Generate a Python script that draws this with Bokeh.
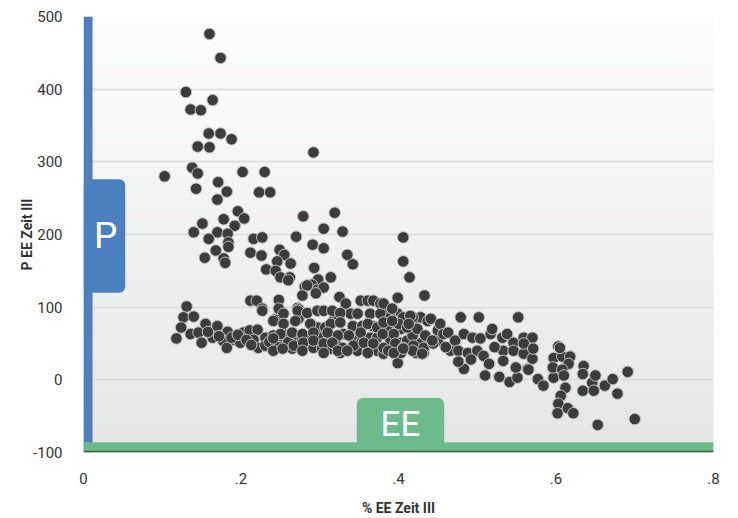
from bokeh.plotting import figure
from bokeh.models import FixedTicker, Range1d
from bokeh.core.properties import value
from bokeh.embed import file_html
from bokeh.resources import INLINE
import numpy as np

# ---------------- data (x = % EE Zeit III, y = P EE Zeit III) ----------------
upper_cluster = [
    (0.160, 476), (0.174, 443), (0.130, 396), (0.164, 385), (0.136, 372), (0.149, 371),
    (0.159, 339), (0.174, 339), (0.188, 331), (0.145, 321), (0.160, 320), (0.292, 313),
    (0.103, 280), (0.138, 292), (0.145, 284), (0.202, 286), (0.230, 286), (0.143, 263),
    (0.171, 272), (0.182, 259), (0.223, 258), (0.237, 258), (0.170, 248), (0.196, 232),
    (0.204, 222), (0.192, 212), (0.178, 221), (0.151, 215), (0.140, 203), (0.170, 203),
    (0.183, 201), (0.159, 194), (0.184, 189), (0.184, 183), (0.168, 178), (0.154, 168),
    (0.178, 167), (0.180, 161), (0.216, 194), (0.227, 196), (0.212, 175), (0.226, 171),
    (0.270, 197), (0.279, 225), (0.319, 230), (0.305, 208), (0.329, 204), (0.291, 186),
    (0.305, 181), (0.249, 179), (0.255, 172), (0.263, 160), (0.246, 163), (0.232, 152),
    (0.244, 150), (0.250, 141), (0.262, 141), (0.293, 154), (0.314, 141), (0.335, 172),
    (0.342, 159), (0.406, 196), (0.406, 163), (0.414, 141), (0.433, 116), (0.298, 138),
    (0.281, 128), (0.290, 131), (0.297, 124), (0.305, 127), (0.278, 116), (0.325, 114),
    (0.212, 109), (0.220, 109), (0.248, 110), (0.131, 101), (0.227, 98), (0.272, 99),
    (0.260, 137), (0.295, 119),
]
low_band_left = [
    (0.127, 86), (0.140, 87), (0.124, 72), (0.118, 57), (0.136, 63), (0.146, 65),
    (0.155, 77), (0.150, 51), (0.164, 58), (0.170, 74), (0.183, 66), (0.177, 54),
    (0.182, 44), (0.192, 55), (0.203, 65), (0.227, 95), (0.243, 83), (0.211, 68),
    (0.221, 69), (0.199, 51), (0.216, 55), (0.222, 44), (0.231, 58), (0.241, 61),
    (0.231, 47), (0.241, 50), (0.248, 98), (0.253, 50), (0.254, 63), (0.265, 43),
    (0.267, 58), (0.241, 81), (0.254, 91), (0.273, 97), (0.273, 84), (0.284, 130),
    (0.158, 66), (0.172, 60), (0.188, 58), (0.196, 62), (0.207, 55), (0.213, 48),
    (0.236, 52), (0.260, 52), (0.248, 45),
]
middle_band = [
    (0.278, 57), (0.288, 57), (0.297, 72), (0.307, 72), (0.292, 44), (0.303, 43),
    (0.314, 43), (0.301, 58), (0.314, 58), (0.317, 81), (0.324, 86), (0.333, 105),
    (0.320, 51), (0.330, 63), (0.326, 37), (0.339, 91), (0.348, 91), (0.352, 109),
    (0.361, 109), (0.368, 109), (0.377, 105), (0.342, 74), (0.354, 74), (0.367, 74),
    (0.343, 57), (0.354, 54), (0.364, 58), (0.373, 58), (0.348, 40), (0.361, 40),
    (0.373, 40), (0.381, 36), (0.386, 95), (0.399, 91), (0.406, 86), (0.381, 72),
    (0.394, 70), (0.403, 70), (0.390, 54), (0.403, 51), (0.411, 54), (0.399, 113),
    (0.399, 23), (0.419, 81), (0.428, 86), (0.437, 81), (0.418, 61), (0.428, 50),
    (0.441, 51), (0.450, 54), (0.422, 37), (0.432, 37),
    (0.272, 95), (0.284, 92), (0.297, 95), (0.305, 95), (0.316, 95), (0.326, 92),
    (0.364, 91), (0.377, 91), (0.390, 86), (0.418, 86), (0.441, 84), (0.254, 77),
    (0.269, 81), (0.288, 77), (0.314, 77), (0.326, 79), (0.361, 77), (0.373, 72),
    (0.386, 74), (0.400, 77), (0.411, 72), (0.424, 70), (0.450, 68), (0.250, 63),
    (0.265, 65), (0.278, 63), (0.292, 65), (0.310, 65), (0.323, 61), (0.337, 61),
    (0.352, 65), (0.380, 63), (0.394, 63), (0.434, 61), (0.267, 47), (0.279, 51),
    (0.292, 54), (0.305, 50), (0.316, 51), (0.329, 44), (0.343, 47), (0.356, 51),
    (0.368, 50), (0.381, 44), (0.396, 50), (0.406, 44), (0.419, 47), (0.432, 44),
    (0.444, 50), (0.278, 40), (0.305, 37), (0.323, 40), (0.335, 40), (0.361, 37),
    (0.387, 40), (0.403, 37), (0.418, 40), (0.430, 36), (0.241, 40), (0.253, 43),
    (0.241, 57),
]
right_tail = [
    (0.381, 105), (0.392, 98), (0.415, 88), (0.381, 79), (0.392, 81), (0.413, 77),
    (0.394, 37), (0.406, 43), (0.443, 54), (0.453, 77), (0.457, 63), (0.479, 86),
    (0.502, 86), (0.552, 86), (0.463, 65), (0.472, 54), (0.483, 63), (0.494, 58),
    (0.504, 57), (0.517, 63), (0.519, 70), (0.466, 40), (0.476, 40), (0.488, 37),
    (0.500, 40), (0.508, 33), (0.483, 15), (0.510, 6), (0.528, 4), (0.541, -3),
    (0.551, 3), (0.532, 58), (0.538, 63), (0.546, 51), (0.559, 58), (0.570, 58),
    (0.533, 40), (0.546, 40), (0.559, 36), (0.570, 29), (0.533, 26), (0.549, 17),
    (0.564, 15), (0.577, 1), (0.584, -8), (0.597, 3), (0.603, 46), (0.597, 30),
    (0.608, 32), (0.618, 32), (0.616, 22), (0.596, 17), (0.608, 14), (0.612, -11),
    (0.606, -22), (0.603, -33), (0.615, -39), (0.622, -46), (0.602, -46), (0.635, 19),
    (0.634, 8), (0.634, -15), (0.646, -4), (0.650, 6), (0.648, -15), (0.662, -8),
    (0.672, 1), (0.678, -19), (0.691, 11), (0.653, -62), (0.700, -54), (0.565, 14),
    (0.559, 50), (0.571, 43), (0.610, 6), (0.605, 44), (0.476, 25), (0.492, 28),
    (0.515, 22), (0.522, 45), (0.460, 45),
]

x_ticks = [0, 0.2, 0.4, 0.6, 0.8]
x_tick_labels = ["0", ".2", ".4", ".6", ".8"]
y_ticks = [-100, 0, 100, 200, 300, 400, 500]
y_tick_labels = ["-100", "0", "100", "200", "300", "400", "500"]
x_title = "% EE Zeit III"
y_title = "P EE Zeit III"
p_tag = "P"
ee_tag = "EE"

# ---------------- styling ----------------
FONT = "Roboto"
BLUE = "#4a80c0"
GREEN = "#6dba8b"
DOT = "#3c3c3c"

points = upper_cluster + low_band_left + middle_band + right_tail
xs = [pt[0] for pt in points]
ys = [pt[1] for pt in points]

p = figure(width=738, height=518, output_backend="svg", toolbar_location=None,
           x_range=Range1d(0, 0.8), y_range=Range1d(-100, 500),
           min_border_left=83, min_border_right=25, min_border_top=16, min_border_bottom=66)
p.outline_line_color = None
p.background_fill_color = "#f2f3f3"
p.border_fill_color = "white"

# background vertical gradient (decoration)
n = 60
edges = np.linspace(-100, 500, n + 1)
c_bot = np.array([228, 230, 230])
c_top = np.array([253, 253, 253])
cols = []
for i in range(n):
    t = (i + 0.5) / n
    c = c_bot + (c_top - c_bot) * t
    cols.append("#%02x%02x%02x" % tuple(int(round(v)) for v in c))
p.quad(left=0, right=0.8, bottom=edges[:-1], top=edges[1:], fill_color=cols,
       line_color=cols, line_width=1, level="image")

p.xgrid.grid_line_color = None
p.ygrid.grid_line_color = "#dcdcdc"
p.ygrid.grid_line_width = 1.5

# scatter
p.scatter(xs, ys, size=11.5, fill_color=DOT, line_color="#c4c4c4", line_width=1)

# P tag + blue bar
p.quad(left=0, right=0.053, bottom=120, top=276, fill_color=BLUE, line_color=None, border_radius=6)
p.quad(left=0, right=0.0115, bottom=-100, top=500, fill_color=BLUE, line_color=None)
p.text(x=[0.028], y=[199], text=[p_tag], text_align="center", text_baseline="middle",
       text_color="white", text_font_size="37px", text_font=value(FONT))

# EE tag + green bar
p.quad(left=0.347, right=0.458, bottom=-95, top=-25, fill_color=GREEN, line_color=None, border_radius=6)
p.quad(left=0, right=0.8, bottom=-98, top=-86, fill_color=GREEN, line_color=None)
p.quad(left=0, right=0.8, bottom=-100, top=-97.5, fill_color="#4d5c54", line_color=None)
p.text(x=[0.4025], y=[-62], text=[ee_tag], text_align="center", text_baseline="middle",
       text_color="white", text_font_size="35px", text_font=value(FONT))

# axes
p.xaxis.ticker = FixedTicker(ticks=x_ticks)
p.xaxis.major_label_overrides = {t: l for t, l in zip(x_ticks, x_tick_labels)}
p.yaxis.ticker = FixedTicker(ticks=y_ticks)
p.yaxis.major_label_overrides = {t: l for t, l in zip(y_ticks, y_tick_labels)}
for ax in (p.xaxis, p.yaxis):
    ax.axis_line_color = None
    ax.major_tick_line_color = None
    ax.minor_tick_line_color = None
    ax.major_label_text_font = FONT
    ax.major_label_text_font_size = "15px"
    ax.major_label_text_color = "#333333"
    ax.axis_label_text_font = FONT
    ax.axis_label_text_font_size = "14px"
    ax.axis_label_text_font_style = "bold"
    ax.axis_label_text_color = "#333333"
p.xaxis.axis_label = x_title
p.yaxis.axis_label = y_title
p.xaxis.major_label_standoff = 14
p.yaxis.major_label_standoff = 15
p.xaxis.axis_label_standoff = 13
p.yaxis.axis_label_standoff = -5

open("out.html", "w").write(file_html(p, INLINE))
